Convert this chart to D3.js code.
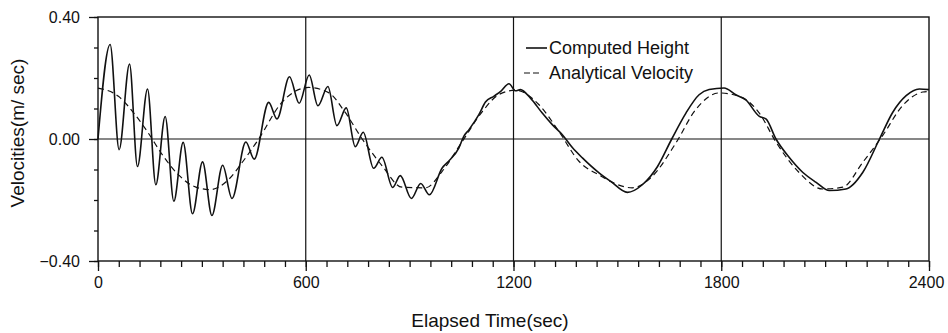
<!DOCTYPE html>
<html lang="en">
<head>
<meta charset="UTF-8">
<title>Velocities vs Elapsed Time</title>
<script src="https://d3js.org/d3.v7.min.js"></script>
<style>
  body { margin: 0; background: #fff; }
  svg { display: block; background: #fff; }
  text { font-family: "Liberation Sans", Arial, sans-serif; fill: #111; }
  .tick text { font-family: "Liberation Sans", Arial, sans-serif; font-size: 16px; }
</style>
</head>
<body>
<svg width="948" height="333"></svg>
<script>
// values (time in sec, velocity in m/sec)
const timeComputed = [0, 35, 61, 91, 114, 143, 167, 194, 219, 246, 273, 302, 329, 360, 387, 427, 451,
  493, 517, 553, 581, 610, 635, 664, 690, 717, 743, 766, 796, 820, 851, 873, 905, 932, 957,
  994, 1008, 1042, 1056, 1071, 1100, 1119, 1143, 1163, 1187, 1206, 1220, 1249, 1283, 1312, 1341,
  1370, 1399, 1447, 1481, 1529, 1572, 1616, 1657, 1698, 1736, 1765, 1808, 1842, 1871, 1910,
  1929, 1958, 1996, 2035, 2074, 2112, 2160, 2209, 2257, 2295, 2334, 2372, 2400];
const velComputed = [0, 0.31, -0.035, 0.246, -0.09, 0.164, -0.15, 0.074, -0.204, -0.011, -0.245, -0.075, -0.251, -0.086, -0.195, -0.01, -0.066,
  0.12, 0.066, 0.204, 0.117, 0.21, 0.109, 0.172, 0.044, 0.102, -0.025, 0.022, -0.096, -0.06, -0.159, -0.12, -0.195, -0.146, -0.183,
  -0.095, -0.078, -0.03, 0.008, 0.03, 0.08, 0.121, 0.14, 0.156, 0.181, 0.158, 0.162, 0.134, 0.085, 0.047, 0.014,
  -0.028, -0.062, -0.111, -0.139, -0.175, -0.15, -0.09, 0, 0.085, 0.145, 0.162, 0.167, 0.145, 0.128, 0.074,
  0.066, 0, -0.06, -0.109, -0.142, -0.169, -0.164, -0.109, 0, 0.087, 0.142, 0.164, 0.162];

const timeAnalytical = [0, 59, 107, 145, 189, 232, 281, 324, 377, 415, 464, 531, 608, 666, 714, 763, 820, 878,
  946, 994, 1052, 1110, 1158, 1206, 1273, 1331, 1389, 1447, 1543, 1601, 1669, 1726, 1794, 1852, 1910,
  1958, 2025, 2093, 2151, 2209, 2266, 2324, 2382, 2400];
const velAnalytical = [0.167, 0.14, 0.08, 0.02, -0.057, -0.117, -0.157, -0.166, -0.133, -0.079, 0, 0.12, 0.169, 0.152, 0.087, 0, -0.087, -0.158,
  -0.16, -0.106, -0.008, 0.09, 0.146, 0.16, 0.113, 0.025, -0.073, -0.118, -0.16, -0.122, -0.013, 0.096, 0.151, 0.14, 0.085,
  -0.01, -0.11, -0.164, -0.158, -0.076, 0.011, 0.11, 0.154, 0.156];

const xMajorTicks = [0, 600, 1200, 1800, 2400];
const yMajorTicks = [-0.4, 0, 0.4];
const seriesNames = ["Computed Height", "Analytical Velocity"];

const svg = d3.select("svg");
const x = d3.scaleLinear().domain([0, 2400]).range([98, 929]);
const y = d3.scaleLinear().domain([-0.4, 0.4]).range([261, 17]);

// minor ticks
svg.append("g")
    .attr("transform", `translate(0,${y(-0.4)})`)
    .call(d3.axisBottom(x).tickValues(d3.range(0, 2401, 60)).tickSize(6).tickFormat(""))
    .call(g => g.select(".domain").remove());
svg.append("g")
    .attr("transform", `translate(${x(0)},0)`)
    .call(d3.axisLeft(y).tickValues(d3.range(-4, 5).map(d => d / 10)).tickSize(4).tickFormat(""))
    .call(g => g.select(".domain").remove());

// major ticks + labels
svg.append("g")
    .attr("transform", `translate(0,${y(-0.4)})`)
    .call(d3.axisBottom(x).tickValues(xMajorTicks).tickSize(10).tickPadding(6).tickFormat(d3.format("d")))
    .call(g => g.select(".domain").remove())
    .call(g => g.selectAll(".tick text").filter(d => d === 2400).attr("dx", -3));
svg.append("g")
    .attr("transform", `translate(${x(0)},0)`)
    .call(d3.axisLeft(y).tickValues(yMajorTicks).tickSize(9).tickPadding(9)
        .tickFormat(d => d3.format(".2f")(d).replace("-", "\u2212")))
    .call(g => g.select(".domain").remove());

svg.selectAll(".tick line").attr("stroke", "#111").attr("stroke-width", 1.3);
svg.selectAll(".tick text").attr("fill", "#111");

// grid lines
svg.append("g").selectAll("line")
    .data([600, 1200, 1800])
    .join("line")
    .attr("x1", d => x(d)).attr("x2", d => x(d))
    .attr("y1", y(0.4)).attr("y2", y(-0.4))
    .attr("stroke", "#111").attr("stroke-width", 1.2);
svg.append("line")
    .attr("x1", x(0)).attr("x2", x(2400))
    .attr("y1", y(0)).attr("y2", y(0))
    .attr("stroke", "#111").attr("stroke-width", 1.2);

// frame
svg.append("rect")
    .attr("x", x(0)).attr("y", y(0.4))
    .attr("width", x(2400) - x(0)).attr("height", y(-0.4) - y(0.4))
    .attr("fill", "none").attr("stroke", "#111").attr("stroke-width", 1.4);

const line = d3.line().x(d => x(d[0])).y(d => y(d[1])).curve(d3.curveMonotoneX);

svg.append("path")
    .datum(d3.zip(timeAnalytical, velAnalytical))
    .attr("d", line)
    .attr("fill", "none").attr("stroke", "#111").attr("stroke-width", 1.2)
    .attr("stroke-dasharray", "6,4");

svg.append("path")
    .datum(d3.zip(timeComputed, velComputed))
    .attr("d", line)
    .attr("fill", "none").attr("stroke", "#111").attr("stroke-width", 1.6);

// legend
const legend = svg.append("g");
legend.append("line").attr("x1", 526).attr("x2", 547).attr("y1", 48).attr("y2", 48)
    .attr("stroke", "#111").attr("stroke-width", 1.6);
legend.append("line").attr("x1", 524).attr("x2", 541).attr("y1", 73).attr("y2", 73)
    .attr("stroke", "#111").attr("stroke-width", 1.2).attr("stroke-dasharray", "6,3");
legend.selectAll("text")
    .data(seriesNames)
    .join("text")
    .attr("x", 549)
    .attr("y", (d, i) => 54 + i * 25)
    .attr("font-size", 18)
    .text(d => d);

// axis titles
svg.append("text")
    .attr("x", 490).attr("y", 327)
    .attr("text-anchor", "middle")
    .attr("font-size", 19)
    .text("Elapsed Time(sec)");
svg.append("text")
    .attr("transform", "translate(24,133) rotate(-90)")
    .attr("text-anchor", "middle")
    .attr("font-size", 19)
    .text("Velocities(m/ sec)");
</script>
</body>
</html>
